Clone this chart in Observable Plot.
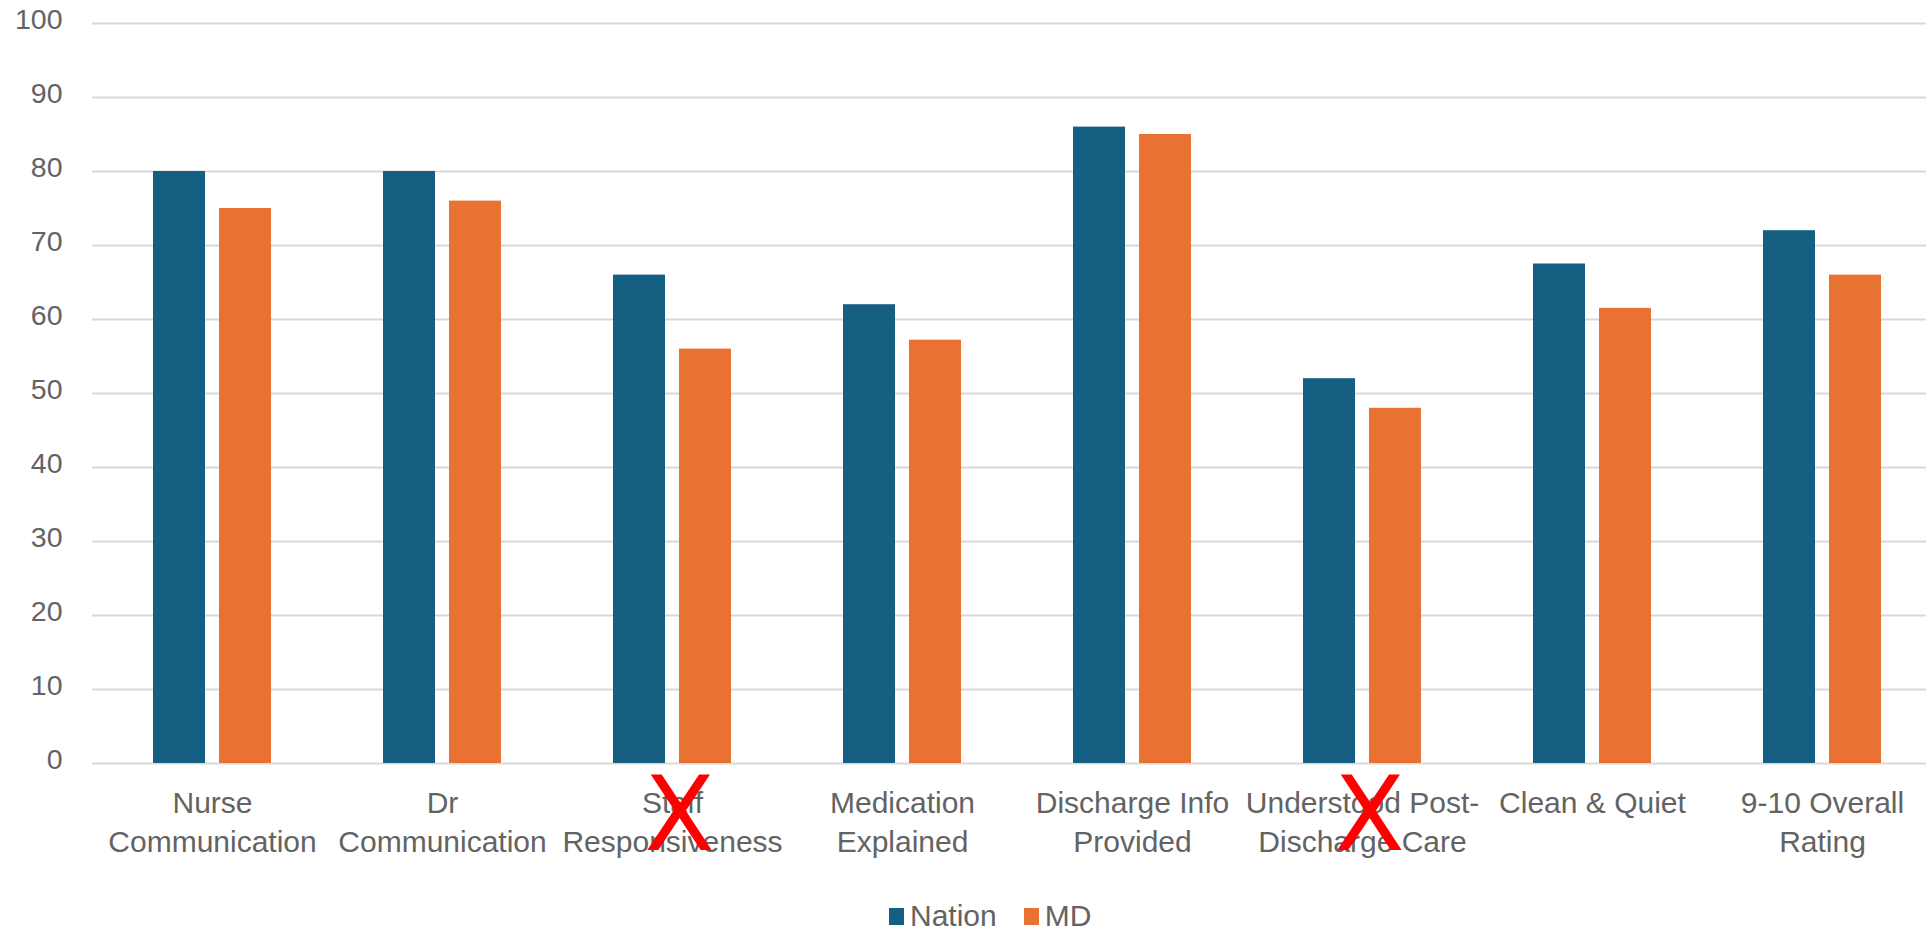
<!DOCTYPE html>
<html>
<head>
<meta charset="utf-8">
<script src="https://cdn.jsdelivr.net/npm/d3@7"></script>
<script src="https://cdn.jsdelivr.net/npm/@observablehq/plot@0.6"></script>
<style>
  html, body { margin: 0; padding: 0; background: #ffffff; overflow: hidden; }
  #chart svg { display: block; }
  .legend { display: flex; align-items: center; height: 50px; margin-top: 11px; margin-left: 889px;
            font-family: "Liberation Sans", Arial, sans-serif; font-size: 30px; color: #636363; }
  .legend .item { display: flex; align-items: center; margin-right: 27px; }
  .legend .sw { width: 15px; height: 17px; margin-right: 6px; }
</style>
</head>
<body>
<div id="chart"></div>
<div class="legend" id="legend"></div>
<script>
const categories = [
  "Nurse Communication", "Dr Communication", "Staff Responsiveness", "Medication Explained",
  "Discharge Info Provided", "Understood Post-Discharge Care", "Clean & Quiet", "9-10 Overall Rating"
];
const tickLabels = [
  "Nurse\nCommunication", "Dr\nCommunication", "Staff\nResponsiveness", "Medication\nExplained",
  "Discharge Info\nProvided", "Understood Post-\nDischarge Care", "Clean & Quiet", "9-10 Overall\nRating"
];
const nation = [80, 80, 66, 62, 86, 52, 67.5, 72];
const md = [75, 76, 56, 57.2, 85, 48, 61.5, 66];
const seriesNames = ["Nation", "MD"];
const seriesColors = ["#156082", "#E97132"];
const yTicks = [0, 10, 20, 30, 40, 50, 60, 70, 80, 90, 100];
const crossed = ["Staff Responsiveness", "Understood Post-Discharge Care"];

const nationRows = categories.map((c, i) => ({category: c, series: "Nation", value: nation[i]}));
const mdRows = categories.map((c, i) => ({category: c, series: "MD", value: md[i]}));
const labelOf = new Map(categories.map((c, i) => [c, tickLabels[i]]));

const chart = Plot.plot({
  width: 1926,
  height: 880,
  marginLeft: 92,
  marginRight: 0,
  marginTop: 23,
  marginBottom: 117,
  style: {fontFamily: "Liberation Sans, Arial, sans-serif", background: "#ffffff", color: "#636363", overflow: "visible"},
  x: {type: "band", domain: categories, range: [95, 1938], paddingInner: 0.488, paddingOuter: 0.244, axis: null, label: null},
  y: {domain: [0, 100], axis: null, label: null},
  color: {domain: seriesNames, range: seriesColors},
  marks: [
    Plot.gridY(yTicks, {stroke: "#d9d9d9", strokeOpacity: 1, strokeWidth: 2}),
    Plot.axisY(yTicks, {tickSize: 0, tickPadding: 30, fontSize: 28.5, dy: -4, fill: "#636363", label: null}),
    Plot.axisX({tickSize: 0, tickPadding: 22, fontSize: 30, lineHeight: 1.3, fill: "#636363", label: null,
                tickFormat: d => labelOf.get(d)}),
    Plot.barY(nationRows, {x: "category", y: "value", fill: "series", insetRight: 66}),
    Plot.barY(mdRows, {x: "category", y: "value", fill: "series", insetLeft: 66}),
    Plot.text(crossed, {x: d => d, text: () => "X", frameAnchor: "bottom", dy: 86, dx: 7,
                        fill: "#ff0000", fontSize: 103, fontFamily: "DejaVu Sans, sans-serif"})
  ]
});
document.getElementById("chart").appendChild(chart);

const legend = document.getElementById("legend");
seriesNames.forEach((s, i) => {
  const item = document.createElement("div");
  item.className = "item";
  const sw = document.createElement("div");
  sw.className = "sw";
  sw.style.background = seriesColors[i];
  const t = document.createElement("span");
  t.textContent = s;
  item.appendChild(sw);
  item.appendChild(t);
  legend.appendChild(item);
});
</script>
</body>
</html>
